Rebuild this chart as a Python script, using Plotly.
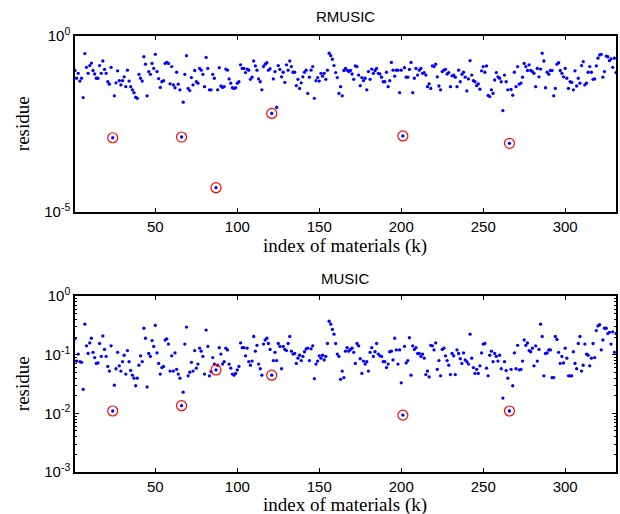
import numpy as np
import plotly.graph_objects as go
from plotly.subplots import make_subplots

# log10 of residue (index of materials k = 1..331)
rmusic_log10 = [
    -0.98,-1.20,-1.06,-1.28,-1.20,-1.75,-0.50,-0.89,-1.06,-0.84,
    -0.77,-0.98,-1.08,-1.20,-1.20,-0.84,-1.06,-0.71,-0.95,-1.06,
    -1.30,-1.37,-0.89,-2.89,-1.70,-1.33,-0.99,-1.27,-1.39,-1.27,
    -1.16,-1.44,-0.97,-1.28,-1.44,-1.53,-1.61,-1.74,-1.77,-1.09,
    -1.20,-1.28,-0.59,-0.80,-1.70,-1.01,-1.09,-0.78,-0.92,-0.52,
    -1.01,-1.21,-1.46,-1.30,-1.27,-0.78,-0.75,-0.78,-1.36,-0.87,
    -1.39,-1.47,-1.03,-1.37,-1.53,-2.87,-1.88,-1.09,-0.56,-1.49,
    -1.55,-1.18,-1.39,-0.98,-1.30,-1.34,-0.92,-0.97,-1.09,-1.44,
    -0.61,-0.92,-1.53,-1.53,-1.09,-1.20,-4.31,-1.53,-0.90,-1.42,
    -1.46,-1.44,-0.94,-0.97,-1.22,-1.34,-1.47,-1.49,-1.47,-1.34,
    -1.30,-0.82,-0.92,-0.92,-1.04,-0.94,-0.97,-1.23,-1.17,-0.71,
    -0.85,-0.97,-1.22,-1.30,-1.53,-0.87,-0.80,-0.76,-0.97,-0.93,
    -2.20,-1.22,-1.01,-2.03,-0.84,-0.95,-1.16,-1.03,-1.32,-0.82,
    -0.97,-0.71,-0.87,-1.03,-1.03,-1.41,-1.23,-1.49,-1.33,-1.16,
    -1.03,-0.97,-1.63,-1.17,-0.97,-0.87,-1.77,-1.27,-1.18,-1.28,
    -1.06,-1.14,-1.06,-1.23,-0.97,-0.49,-0.56,-0.66,-0.84,-1.04,
    -1.18,-1.63,-1.44,-1.70,-0.98,-0.92,-0.97,-1.01,-0.98,-1.08,
    -1.23,-0.85,-0.87,-1.11,-1.41,-1.18,-1.27,-1.20,-1.53,-1.01,
    -1.23,-0.94,-1.06,-0.98,-0.92,-1.06,-1.08,-1.17,-1.30,-1.30,
    -1.03,-1.44,-1.27,-0.75,-0.97,-1.14,-0.97,-0.97,-1.61,-0.97,
    -2.84,-0.90,-1.17,-1.17,-0.95,-0.75,-1.61,-1.20,-0.92,-1.11,
    -0.97,-0.92,-1.06,-1.04,-1.11,-1.44,-1.36,-1.49,-0.85,-0.87,
    -0.80,-1.16,-1.42,-1.53,-1.01,-0.97,-0.95,-1.08,-1.04,-1.44,
    -1.13,-1.11,-1.17,-1.44,-0.97,-1.30,-1.09,-1.03,-1.17,-1.56,
    -1.22,-0.70,-1.11,-1.27,-1.30,-1.41,-1.36,-1.51,-0.99,-0.87,
    -1.03,-0.85,-1.69,-1.72,-1.53,-1.63,-1.25,-1.04,-1.16,-1.20,
    -1.30,-2.12,-1.11,-1.30,-1.53,-3.05,-1.52,-1.68,-1.03,-1.44,
    -0.87,-1.37,-1.34,-1.17,-0.78,-0.87,-0.98,-0.82,-0.98,-1.01,
    -1.06,-1.44,-0.92,-1.16,-0.94,-0.49,-0.71,-1.47,-1.03,-1.09,
    -0.98,-0.98,-1.70,-1.49,-0.80,-0.76,-0.98,-1.06,-1.16,-0.92,
    -1.20,-1.49,-1.30,-1.32,-1.53,-0.99,-1.42,-1.20,-1.34,-0.84,
    -0.73,-1.39,-1.34,-1.03,-0.87,-1.03,-1.23,-1.22,-0.85,-0.63,
    -0.54,-0.52,-1.17,-1.01,-0.57,-0.59,-0.70,-0.65,-0.89,-0.63,-1.04,
]

music_log10 = [
    -0.73,-1.11,-0.99,-1.12,-1.13,-1.59,-0.48,-0.85,-0.98,-0.80,
    -0.72,-0.96,-1.05,-1.15,-1.14,-0.81,-1.03,-0.68,-0.91,-1.03,
    -1.20,-1.28,-0.85,-1.96,-1.52,-1.24,-0.96,-1.19,-1.28,-1.12,
    -1.01,-1.33,-0.93,-1.12,-1.27,-1.35,-1.40,-1.53,-1.40,-1.18,
    -1.02,-1.12,-0.55,-0.72,-1.55,-0.98,-1.03,-0.76,-0.86,-0.50,
    -0.97,-1.15,-1.33,-1.22,-1.20,-0.75,-0.73,-0.82,-1.28,-1.02,
    -1.28,-0.97,-1.25,-1.33,-1.40,-1.87,-1.64,-0.82,-0.53,-1.36,
    -1.30,-1.13,-1.28,-0.93,-1.23,-1.16,-0.89,-0.94,-1.03,-1.33,
    -0.58,-0.86,-1.36,-1.29,-1.05,-1.16,-1.26,-1.18,-0.88,-0.99,
    -1.16,-1.12,-0.89,-0.92,-1.16,-1.23,-1.33,-1.35,-1.32,-1.26,
    -1.20,-0.80,-0.88,-0.88,-1.02,-0.89,-1.12,-1.18,-1.11,-0.69,
    -0.94,-0.84,-1.16,-1.24,-1.35,-0.82,-0.75,-0.72,-0.81,-0.91,
    -1.35,-1.10,-0.96,-1.10,-0.81,-0.86,-1.24,-0.86,-0.91,-0.93,
    -0.81,-0.69,-0.94,-0.99,-0.98,-1.15,-1.06,-1.01,-1.10,-1.03,
    -0.95,-0.90,-0.89,-1.10,-0.90,-0.85,-1.41,-1.16,-1.11,-1.02,
    -1.06,-1.01,-1.09,-1.03,-0.81,-0.43,-0.48,-0.57,-0.65,-0.81,
    -0.99,-1.03,-1.42,-1.28,-1.39,-0.94,-0.88,-0.94,-0.91,-0.89,
    -0.96,-1.15,-0.81,-0.85,-1.07,-1.32,-1.11,-1.16,-1.12,-1.28,
    -0.96,-0.88,-1.03,-0.95,-0.81,-0.99,-1.02,-1.03,-1.12,-1.12,
    -1.22,-1.16,-0.95,-0.94,-1.09,-0.72,-0.92,-1.16,-0.92,-1.48,
    -2.03,-0.86,-1.14,-1.10,-0.71,-1.35,-0.85,-0.91,-0.88,-0.98,
    -0.98,-1.03,-0.99,-1.06,-1.34,-1.28,-1.38,-0.84,-0.85,-0.92,
    -0.80,-1.25,-1.10,-1.36,-0.91,-0.89,-1.02,-1.10,-1.18,-1.34,
    -0.98,-1.02,-1.34,-0.92,-0.98,-1.07,-1.15,-0.97,-1.09,-1.12,
    -1.16,-0.65,-1.06,-1.22,-1.32,-1.25,-1.32,-1.19,-0.97,-0.82,
    -0.81,-1.23,-1.36,-1.01,-0.94,-1.12,-0.98,-1.03,-1.11,-1.01,
    -1.24,-1.74,-1.12,-1.27,-1.40,-1.96,-1.25,-1.53,-0.97,-1.24,
    -0.84,-1.26,-1.25,-1.11,-0.75,-0.84,-0.80,-0.93,-0.95,-0.89,
    -1.19,-0.85,-1.11,-0.91,-0.48,-0.69,-1.36,-0.98,-0.97,-0.92,
    -0.92,-1.39,-1.39,-0.69,-0.74,-0.96,-1.15,-1.03,-1.14,-0.89,
    -1.06,-1.36,-1.36,-1.36,-0.95,-1.15,-1.24,-0.81,-0.69,-1.28,
    -1.18,-0.82,-0.99,-1.01,-1.19,-1.06,-0.81,-1.05,-0.59,-0.51,
    -0.49,-0.92,-0.75,-0.55,-0.55,-0.64,-0.62,-0.82,-0.61,-0.96,-0.64,
]

highlight_k = [24, 66, 87, 121, 201, 266]
x_ticks = [50, 100, 150, 200, 250, 300]
top_yticks = [1, 1e-5]
top_ylabels = ["10<sup>0</sup>", "10<sup>-5</sup>"]
bot_yticks = [1, 1e-1, 1e-2, 1e-3]
bot_ylabels = ["10<sup>0</sup>", "10<sup>-1</sup>", "10<sup>-2</sup>", "10<sup>-3</sup>"]

rmusic = 10 ** np.array(rmusic_log10)
music = 10 ** np.array(music_log10)
k = np.arange(1, len(rmusic) + 1)

W, H = 620, 514
ml, mr, mt, mb = 75, 2, 36, 42
ph = H - mt - mb
pw = W - ml - mr

def py(p):
    return (H - mb - p) / ph

def px(p):
    return (p - ml) / pw

fig = make_subplots(rows=2, cols=1, vertical_spacing=0.0)
fig.update_layout(
    yaxis=dict(domain=[py(212), 1.0]),
    yaxis2=dict(domain=[0.0, py(296)]),
)

for row, vals in ((1, rmusic), (2, music)):
    fig.add_trace(go.Scatter(x=k, y=vals, mode="markers",
                             marker=dict(color="#0000ff", size=3.3, line=dict(width=0)),
                             showlegend=False, hoverinfo="skip"), row=row, col=1)
    hk = np.array(highlight_k)
    fig.add_trace(go.Scatter(x=hk, y=vals[hk - 1], mode="markers",
                             marker=dict(symbol="circle-open", color="#ff0000", size=10,
                                         line=dict(width=1.2)),
                             showlegend=False, hoverinfo="skip"), row=row, col=1)

tickfont = dict(family="Liberation Sans, Arial", size=15, color="black")
xcommon = dict(range=[1, 331], tickvals=x_ticks, ticks="inside", ticklen=4,
               tickcolor="black", showline=True, linecolor="black", linewidth=1.5,
               mirror="ticks", showgrid=False, zeroline=False, tickfont=tickfont)
fig.update_xaxes(**xcommon)
ycommon = dict(type="log", ticks="inside", ticklen=4, tickcolor="black",
               showline=True, linecolor="black", linewidth=1.5, mirror="ticks",
               showgrid=False, zeroline=False, tickfont=tickfont)
fig.update_yaxes(**ycommon)
fig.update_yaxes(range=[-5, 0], tickvals=top_yticks, ticktext=top_ylabels, row=1, col=1)
fig.update_yaxes(range=[-3, 0], tickvals=bot_yticks, ticktext=bot_ylabels,
                 minor=dict(ticks="inside", ticklen=2, tickcolor="black", dtick="D1"),
                 row=2, col=1)

serif = dict(family="Liberation Serif, Times New Roman", size=19, color="black")
sans = dict(family="Liberation Sans, Arial", size=15, color="black")
ann = [
    dict(text="RMUSIC", x=px(346), y=py(17), font=sans),
    dict(text="MUSIC", x=px(346), y=py(278), font=sans),
    dict(text="index of materials (k)", x=px(346), y=py(246), font=serif),
    dict(text="index of materials (k)", x=px(346), y=py(505), font=serif),
    dict(text="residue", x=px(22), y=py(124), font=serif, textangle=-90),
    dict(text="residue", x=px(22), y=py(384), font=serif, textangle=-90),
]
for a in ann:
    fig.add_annotation(xref="paper", yref="paper", showarrow=False,
                       xanchor="center", yanchor="middle", **a)

fig.update_layout(width=W, height=H, margin=dict(l=ml, r=mr, t=mt, b=mb),
                  paper_bgcolor="white", plot_bgcolor="white")
fig.write_html("out.html", config={"displayModeBar": False},
               post_script="document.body.style.margin='0';document.body.style.overflow='hidden';")
